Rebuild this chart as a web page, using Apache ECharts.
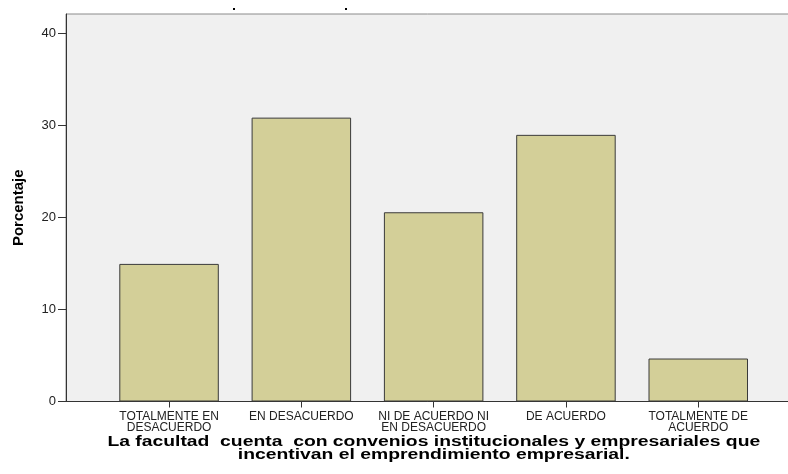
<!DOCTYPE html>
<html>
<head>
<meta charset="utf-8">
<script src="https://cdn.jsdelivr.net/npm/echarts@6/dist/echarts.min.js"></script>
<style>html,body{margin:0;padding:0;background:#fff}#c{width:788px;height:474px}</style>
</head>
<body>
<div id="c"></div>
<script>
const categories = ['TOTALMENTE EN\nDESACUERDO', 'EN DESACUERDO', 'NI DE ACUERDO NI\nEN DESACUERDO', 'DE ACUERDO', 'TOTALMENTE DE\nACUERDO'];
const percentages = [14.95, 30.84, 20.56, 28.97, 4.67];
const yTicks = [0, 10, 20, 30, 40];
const yMax = 42.1;
const titleText = 'La facultad  cuenta  con convenios institucionales y empresariales que\nincentivan el emprendimiento empresarial.';
const yName = 'Porcentaje';

const chart = echarts.init(document.getElementById('c'), null, {renderer: 'canvas'});
const font = 'Liberation Sans, Arial, sans-serif';
chart.setOption({
  animation: false,
  backgroundColor: '#ffffff',
  graphic: [
    {type: 'rect', shape: {x: 233, y: 8, width: 2, height: 2}, style: {fill: '#000'}},
    {type: 'rect', shape: {x: 345, y: 8, width: 2, height: 2}, style: {fill: '#000'}},
    {type: 'text', x: 433.8, y: 448.5, scaleX: 1.38,
      style: {text: titleText, font: 'bold 14px Liberation Sans, Arial, sans-serif', lineHeight: 12.5,
        fill: '#000', align: 'center', verticalAlign: 'middle'}}
  ],
  grid: [
    {left: 66, top: 14, right: -2, bottom: 72.5, containLabel: false, outerBoundsMode: 'none', show: true, backgroundColor: '#f0f0f0', borderColor: '#8a8a8a', borderWidth: 1},
    {left: 102.9, width: 661.5, top: 14, bottom: 72.5, containLabel: false, outerBoundsMode: 'none'}
  ],
  xAxis: [
    {gridIndex: 0, type: 'value', min: 0, max: 1, axisLine: {show: true, lineStyle: {color: '#333', width: 1}}, axisTick: {show: false}, axisLabel: {show: false}, splitLine: {show: false}},
    {gridIndex: 1, type: 'category', data: categories, axisLine: {show: false},
      axisTick: {show: true, alignWithLabel: true, length: 6, lineStyle: {color: '#333'}},
      axisLabel: {fontFamily: font, fontSize: 12, lineHeight: 11.5, color: '#222', margin: 9, interval: 0}}
  ],
  yAxis: [
    {gridIndex: 0, type: 'value', min: 0, max: yMax,
      axisLine: {show: true, lineStyle: {color: '#333', width: 1}},
      axisTick: {show: true, length: 8, customValues: yTicks, lineStyle: {color: '#333'}},
      axisLabel: {fontFamily: font, fontSize: 13, color: '#222', margin: 10, customValues: yTicks},
      splitLine: {show: false},
      name: yName, nameLocation: 'middle', nameGap: 40,
      nameTextStyle: {fontFamily: font, fontWeight: 'bold', fontSize: 15, color: '#000'}},
    {gridIndex: 1, type: 'value', min: 0, max: yMax, show: false, splitLine: {show: false}}
  ],
  series: [{
    type: 'bar', xAxisIndex: 1, yAxisIndex: 1, data: percentages, barWidth: 99.5,
    itemStyle: {color: '#d3cf98', borderColor: '#3a3a3a', borderWidth: 1}
  }]
});
</script>
</body>
</html>
